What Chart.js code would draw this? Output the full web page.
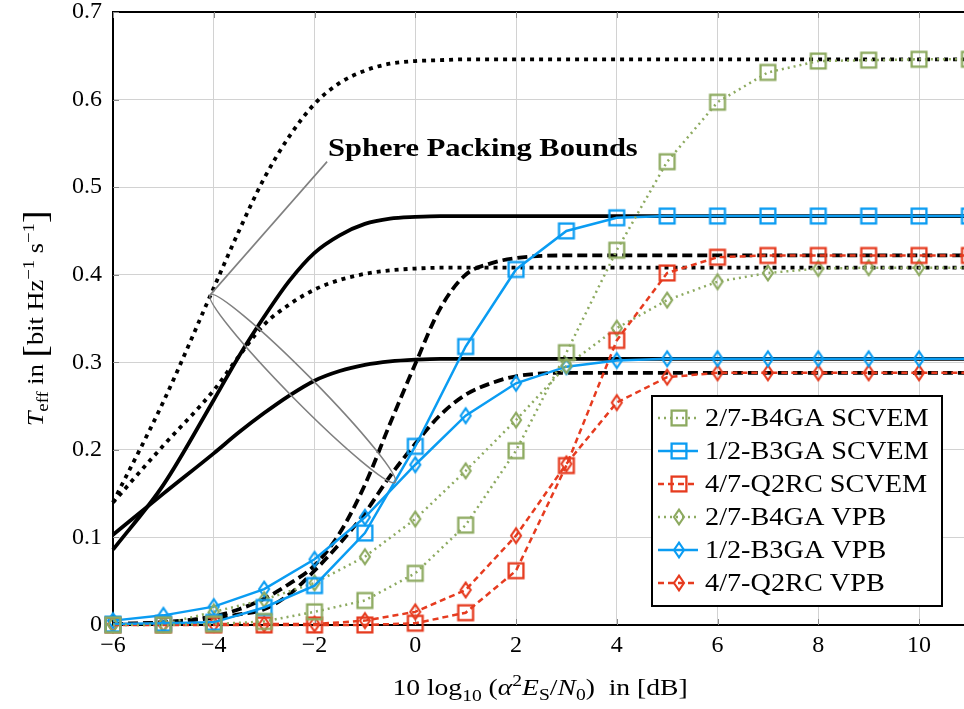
<!DOCTYPE html>
<html>
<head>
<meta charset="utf-8">
<script src="https://cdn.jsdelivr.net/npm/chart.js@4.4.0/dist/chart.umd.min.js"></script>
<style>
  html, body { margin: 0; padding: 0; background: #fff; overflow: hidden; }
  #contenedor { width: 964px; height: 709px; }
</style>
</head>
<body>
<div id="contenedor"><canvas id="graficaEficiencia" width="964" height="709"></canvas></div>
<script>
// SNR en dB (puntos simulados)
const snr = [-6, -5, -4, -3, -2, -1, 0, 1, 2, 3, 4, 5, 6, 7, 8, 9, 10, 11];

// SCVEM
const b4gaScvem = [0, 0, 0.001, 0.004, 0.015, 0.028, 0.059, 0.114, 0.199, 0.311, 0.428, 0.529, 0.597, 0.631, 0.644, 0.645, 0.646, 0.646];
const b3gaScvem = [0.001, 0.002, 0.003, 0.02, 0.045, 0.105, 0.204, 0.318, 0.406, 0.45, 0.465, 0.467, 0.467, 0.467, 0.467, 0.467, 0.467, 0.467];
const q2rcScvem = [0, 0, 0, 0, 0, 0, 0.002, 0.014, 0.062, 0.182, 0.325, 0.402, 0.42, 0.422, 0.422, 0.422, 0.422, 0.422];

// VPB
const b4gaVpb = [0, 0.001, 0.015, 0.029, 0.048, 0.078, 0.121, 0.176, 0.234, 0.296, 0.339, 0.371, 0.392, 0.402, 0.407, 0.408, 0.408, 0.408];
const b3gaVpb = [0.005, 0.011, 0.021, 0.041, 0.075, 0.123, 0.183, 0.239, 0.276, 0.295, 0.302, 0.304, 0.304, 0.304, 0.304, 0.304, 0.304, 0.304];
const q2rcVpb = [0.001, 0.001, 0.001, 0.001, 0.001, 0.005, 0.015, 0.04, 0.102, 0.184, 0.254, 0.283, 0.288, 0.288, 0.288, 0.288, 0.288, 0.288];

// Cotas de empaquetamiento de esferas
const snrCota = [-6, -5, -4, -3.5, -3, -2.5, -2, -1.5, -1, -0.5, 0, 0.5, 1, 1.5, 2, 3, 4, 11];
const cotaB4gaAlta = [0.14, 0.255, 0.385, 0.45, 0.51, 0.558, 0.595, 0.619, 0.633, 0.641, 0.644, 0.645, 0.646, 0.646, 0.646, 0.646, 0.646, 0.646];
const cotaB4gaBaja = [0.14, 0.205, 0.268, 0.307, 0.343, 0.366, 0.383, 0.394, 0.401, 0.405, 0.407, 0.408, 0.408, 0.408, 0.408, 0.408, 0.408, 0.408];
const cotaB3gaAlta = [0.086, 0.16, 0.257, 0.307, 0.352, 0.393, 0.425, 0.445, 0.458, 0.464, 0.466, 0.467, 0.467, 0.467, 0.467, 0.467, 0.467, 0.467];
const cotaB3gaBaja = [0.103, 0.15, 0.196, 0.22, 0.242, 0.262, 0.279, 0.29, 0.297, 0.301, 0.303, 0.304, 0.304, 0.304, 0.304, 0.304, 0.304, 0.304];
const cotaQ2rcAlta = [0.001, 0.003, 0.01, 0.018, 0.03, 0.047, 0.068, 0.105, 0.16, 0.23, 0.298, 0.362, 0.4, 0.413, 0.419, 0.422, 0.422, 0.422];
const cotaQ2rcBaja = [0.001, 0.003, 0.008, 0.012, 0.018, 0.035, 0.062, 0.093, 0.128, 0.17, 0.207, 0.24, 0.263, 0.276, 0.284, 0.288, 0.288, 0.288];

// Ejes
const xTicks = [-6, -4, -2, 0, 2, 4, 6, 8, 10];
const yTicks = [0, 0.1, 0.2, 0.3, 0.4, 0.5, 0.6, 0.7];

const verde = "#8DAA60";
const azul = "#0A9CF2";
const rojo = "#E63B1F";

const FUENTE = '"Liberation Serif", "Times New Roman", serif';

// Marcadores huecos
function cuadrado(color) {
    const c = document.createElement("canvas");
    c.width = 20; c.height = 20;
    const g = c.getContext("2d");
    g.strokeStyle = color;
    g.lineWidth = 2.3;
    g.strokeRect(2.6, 2.6, 14.8, 14.8);
    return c;
}

function rombo(color) {
    const c = document.createElement("canvas");
    c.width = 16; c.height = 20;
    const g = c.getContext("2d");
    g.strokeStyle = color;
    g.lineWidth = 2.1;
    g.beginPath();
    g.moveTo(8, 2.6); g.lineTo(13, 10); g.lineTo(8, 17.4); g.lineTo(3, 10);
    g.closePath();
    g.stroke();
    return c;
}

function serie(label, valores, color, dash, marcador) {
    return {
        label: label,
        data: snr.map((x, i) => ({ x: x, y: valores[i] })),
        borderColor: color,
        borderWidth: 2.5,
        borderDash: dash,
        pointStyle: marcador,
        pointRadius: 8,
        pointHoverRadius: 8,
        pointBackgroundColor: "rgba(0,0,0,0)",
        pointBorderColor: color,
        tension: 0,
        fill: false,
        clip: false
    };
}

function cota(valores, dash) {
    return {
        label: "",
        data: snrCota.map((x, i) => ({ x: x, y: valores[i] })),
        borderColor: "#000",
        borderWidth: 3.8,
        borderDash: dash,
        pointRadius: 0,
        cubicInterpolationMode: "monotone",
        fill: false,
        clip: false
    };
}

const punteado = [2, 4];
const guiones = [6, 4];
const puntosNegros = [4, 5];
const guionesNegros = [10, 5];

const series = [
    serie("2/7-B4GA SCVEM", b4gaScvem, verde, punteado, cuadrado(verde)),
    serie("1/2-B3GA SCVEM", b3gaScvem, azul, [], cuadrado(azul)),
    serie("4/7-Q2RC SCVEM", q2rcScvem, rojo, guiones, cuadrado(rojo)),
    serie("2/7-B4GA VPB", b4gaVpb, verde, punteado, rombo(verde)),
    serie("1/2-B3GA VPB", b3gaVpb, azul, [], rombo(azul)),
    serie("4/7-Q2RC VPB", q2rcVpb, rojo, guiones, rombo(rojo))
];

const cotas = [
    cota(cotaB4gaAlta, puntosNegros),
    cota(cotaB4gaBaja, puntosNegros),
    cota(cotaB3gaAlta, []),
    cota(cotaB3gaBaja, []),
    cota(cotaQ2rcAlta, guionesNegros),
    cota(cotaQ2rcBaja, guionesNegros)
];

// Texto con sub/superíndices, estirado horizontalmente
function fuenteParte(p, tam) {
    return (p.it ? "italic " : "") + (p.b ? "bold " : "") + Math.round(tam * (p.s || 1)) + "px " + FUENTE;
}

function textoRico(ctx, partes, x, y, tam, estirar, alin) {
    const anchos = partes.map(p => {
        ctx.font = fuenteParte(p, tam);
        return ctx.measureText(p.t).width * estirar;
    });
    const total = anchos.reduce((a, b) => a + b, 0);
    let cx = alin === "left" ? x : x - total / 2;
    ctx.textAlign = "left";
    ctx.textBaseline = "alphabetic";
    partes.forEach((p, i) => {
        ctx.font = fuenteParte(p, tam);
        ctx.save();
        ctx.translate(cx, y + (p.dy || 0));
        ctx.scale(estirar, 1);
        ctx.fillText(p.t, 0, 0);
        ctx.restore();
        cx += anchos[i];
    });
}

const tituloX = [
    { t: "10 log" }, { t: "10", s: 0.7, dy: 6 }, { t: " (" },
    { t: "α", it: true }, { t: "2", s: 0.7, dy: -9 },
    { t: "E", it: true }, { t: "S", s: 0.7, dy: 5 },
    { t: "/" }, { t: "N", it: true }, { t: "0", s: 0.7, dy: 5 },
    { t: ")  in [dB]" }
];

const tituloY = [
    { t: "T", it: true }, { t: "eff", s: 0.7, dy: 5 }, { t: " in " },
    { t: "[", s: 1.4, dy: 3 }, { t: "bit Hz" }, { t: "−1", s: 0.7, dy: -9 },
    { t: " s" }, { t: "−1", s: 0.7, dy: -9 }, { t: "]", s: 1.4, dy: 3 }
];

const decoracion = {
    id: "decoracion",
    beforeDatasetsDraw(chart) {
        const { ctx, chartArea: a, scales } = chart;
        ctx.save();
        // marco superior
        ctx.strokeStyle = "#000";
        ctx.lineWidth = 2;
        ctx.beginPath();
        ctx.moveTo(a.left - 1, a.top);
        ctx.lineTo(a.right, a.top);
        ctx.stroke();
        // marcas interiores de los ejes
        ctx.strokeStyle = "#8a8a8a";
        ctx.lineWidth = 1;
        ctx.beginPath();
        xTicks.forEach(v => {
            const px = Math.round(scales.x.getPixelForValue(v)) + 0.5;
            ctx.moveTo(px, a.bottom); ctx.lineTo(px, a.bottom - 6);
            ctx.moveTo(px, a.top); ctx.lineTo(px, a.top + 6);
        });
        yTicks.forEach(v => {
            const py = Math.round(scales.y.getPixelForValue(v)) + 0.5;
            ctx.moveTo(a.left, py); ctx.lineTo(a.left + 6, py);
        });
        ctx.stroke();
        ctx.restore();
    },
    afterDraw(chart) {
        const { ctx, chartArea: a, scales } = chart;
        const X = v => scales.x.getPixelForValue(v);
        const Y = v => scales.y.getPixelForValue(v);
        ctx.save();

        // Anotación de las cotas
        const puntaA = [X(-4.07), Y(0.377)];
        const puntaB = [X(-0.4), Y(0.163)];
        const texto = [X(-1.73), Y(0.536)];
        ctx.strokeStyle = "#808080";
        ctx.lineWidth = 1.6;
        ctx.beginPath();
        ctx.moveTo(texto[0] - 1, texto[1] + 6);
        ctx.lineTo(puntaA[0], puntaA[1]);
        ctx.stroke();
        const cx = (puntaA[0] + puntaB[0]) / 2, cy = (puntaA[1] + puntaB[1]) / 2;
        const rx = Math.hypot(puntaB[0] - puntaA[0], puntaB[1] - puntaA[1]) / 2;
        const ang = Math.atan2(puntaB[1] - puntaA[1], puntaB[0] - puntaA[0]);
        ctx.beginPath();
        ctx.ellipse(cx, cy, rx, 13, ang, 0, Math.PI * 2);
        ctx.stroke();
        ctx.fillStyle = "#000";
        textoRico(ctx, [{ t: "Sphere Packing Bounds", b: true }], texto[0], texto[1], 25, 1.22, "left");

        // Leyenda
        const lx = a.left + 539, ly = a.bottom - 229, lw = 290, lh = 210;
        ctx.fillStyle = "#fff";
        ctx.fillRect(lx, ly, lw, lh);
        ctx.strokeStyle = "#000";
        ctx.lineWidth = 2;
        ctx.strokeRect(lx, ly, lw, lh);
        series.forEach((s, i) => {
            const yc = ly + 22 + i * 33;
            ctx.strokeStyle = s.borderColor;
            ctx.lineWidth = 2.5;
            ctx.setLineDash(s.borderDash);
            ctx.beginPath();
            ctx.moveTo(lx + 6, yc);
            ctx.lineTo(lx + 46, yc);
            ctx.stroke();
            ctx.setLineDash([]);
            const m = s.pointStyle;
            ctx.drawImage(m, lx + 27 - m.width / 2, yc - m.height / 2);
            ctx.fillStyle = "#000";
            textoRico(ctx, [{ t: s.label }], lx + 53, yc + 8, 25, 1.13, "left");
        });

        // Títulos de los ejes
        ctx.fillStyle = "#000";
        textoRico(ctx, tituloX, (a.left + 967) / 2, 695, 24, 1.15, "center");
        ctx.translate(43, (a.top + a.bottom) / 2);
        ctx.rotate(-Math.PI / 2);
        textoRico(ctx, tituloY, 0, 0, 24, 1.1, "center");
        ctx.restore();
    }
};

const ctx = document.getElementById("graficaEficiencia");

const grafica = new Chart(ctx, {
    type: "line",
    data: {
        datasets: series.concat(cotas)
    },
    options: {
        responsive: false,
        animation: false,
        events: [],
        layout: { autoPadding: false, padding: { top: 12, left: 0, right: 0, bottom: 0 } },
        plugins: {
            legend: { display: false },
            tooltip: { enabled: false }
        },
        scales: {
            x: {
                type: "linear",
                min: -6,
                max: 10.893,
                afterFit: s => { s.height = 84; s.paddingLeft = 0; s.paddingRight = 0; },
                afterBuildTicks: s => { s.ticks = xTicks.map(v => ({ value: v })); },
                grid: { color: "#d2d2d2", lineWidth: 1, drawTicks: false },
                border: { color: "#000", width: 2 },
                ticks: {
                    color: "#000",
                    padding: 6,
                    maxRotation: 0,
                    autoSkip: false,
                    font: { family: FUENTE, size: 24 },
                    callback: v => String(v).replace("-", "−")
                }
            },
            y: {
                type: "linear",
                min: 0,
                max: 0.7,
                afterFit: s => { s.width = 113; s.paddingTop = 0; s.paddingBottom = 0; },
                afterBuildTicks: s => { s.ticks = yTicks.map(v => ({ value: v })); },
                grid: { color: "#d2d2d2", lineWidth: 1, drawTicks: false },
                border: { color: "#000", width: 2 },
                ticks: {
                    color: "#000",
                    padding: 11,
                    font: { family: FUENTE, size: 24 },
                    callback: v => v === 0 ? "0" : v.toFixed(1)
                }
            }
        }
    },
    plugins: [decoracion]
});
</script>
</body>
</html>
